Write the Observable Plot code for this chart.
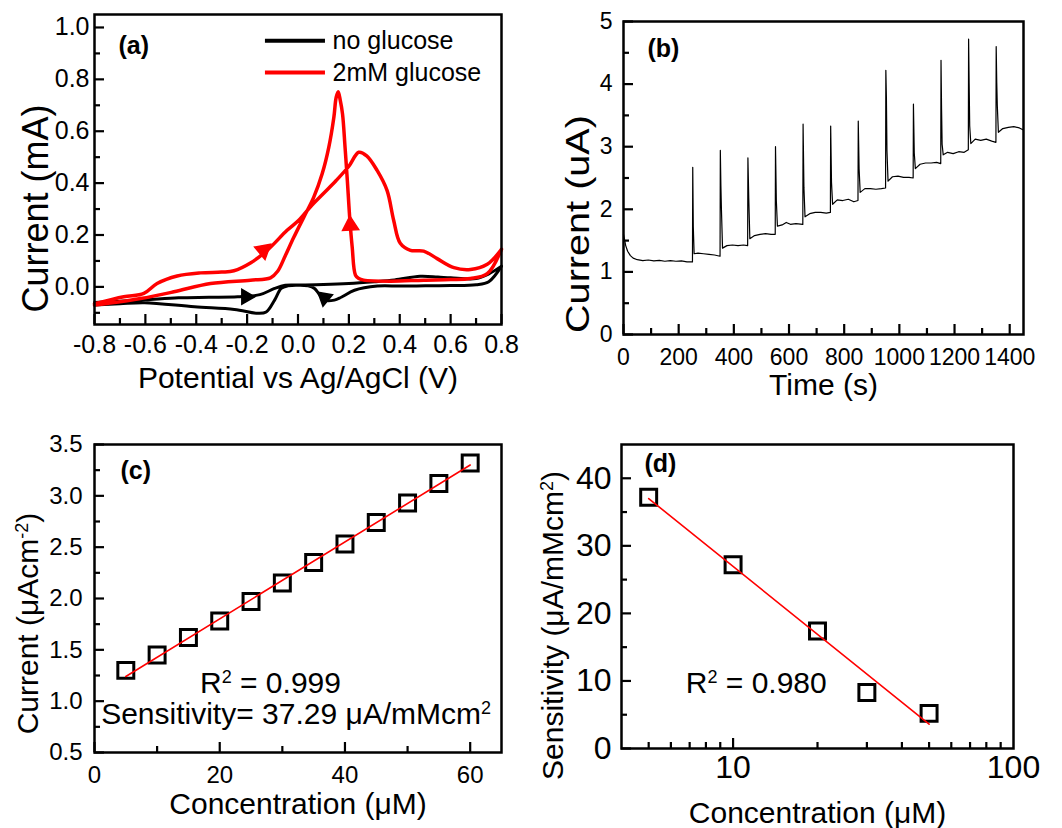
<!DOCTYPE html>
<html><head><meta charset="utf-8">
<script src="https://cdn.jsdelivr.net/npm/d3@7"></script>
<script src="https://cdn.jsdelivr.net/npm/@observablehq/plot@0.6"></script>
<style>
body{margin:0;background:#fff;}
#fig{position:relative;width:1062px;height:828px;background:#fff;}
.panel{position:absolute;}
.panel svg{overflow:visible;}
</style></head><body><div id="fig"></div>
<script>
// ---------- Panel (a): cyclic voltammograms ----------
const redFwdV = [-0.8,-0.685,-0.606,-0.554,-0.475,-0.383,-0.3,-0.252,-0.187,-0.121,-0.043,0.003,0.05,0.1,0.15,0.2,0.239,0.27,0.311,0.35,0.376,0.402,0.442,0.494,0.547,0.613,0.678,0.744,0.8];
const redFwdI = [-0.065,-0.038,-0.025,0.013,0.042,0.054,0.057,0.062,0.092,0.141,0.218,0.257,0.31,0.36,0.41,0.465,0.519,0.505,0.449,0.372,0.257,0.168,0.141,0.138,0.109,0.074,0.067,0.087,0.145];
const redRevV = [0.8,0.744,0.678,0.6,0.494,0.363,0.258,0.239,0.226,0.213,0.204,0.194,0.185,0.175,0.166,0.158,0.15,0.141,0.121,0.095,0.062,0.023,-0.017,-0.05,-0.08,-0.108,-0.187,-0.344,-0.488,-0.619,-0.75,-0.8];
const redRevI = [0.145,0.051,0.032,0.028,0.026,0.022,0.026,0.032,0.045,0.154,0.257,0.41,0.538,0.667,0.72,0.752,0.73,0.654,0.538,0.436,0.346,0.269,0.19,0.12,0.06,0.035,0.026,0.013,-0.019,-0.045,-0.064,-0.07];
const blkFwdV = [-0.8,-0.7,-0.6,-0.47,-0.35,-0.237,-0.15,-0.092,-0.05,0.0,0.1,0.2,0.3,0.38,0.48,0.55,0.6,0.7,0.75,0.8];
const blkFwdI = [-0.06,-0.055,-0.05,-0.042,-0.04,-0.038,-0.03,-0.006,0.006,0.007,0.009,0.013,0.02,0.027,0.041,0.038,0.035,0.032,0.05,0.08];
const blkRevV = [0.8,0.75,0.7,0.6,0.5,0.4,0.312,0.222,0.17,0.143,0.104,0.065,0.04,0.0,-0.04,-0.066,-0.092,-0.125,-0.158,-0.25,-0.407,-0.603,-0.7,-0.8];
const blkRevI = [0.08,0.02,0.008,0.005,0.004,0.003,0.003,-0.013,-0.04,-0.051,-0.051,-0.006,0.004,0.006,0.004,-0.006,-0.051,-0.097,-0.102,-0.087,-0.077,-0.061,-0.065,-0.07];
const arrowV = [-0.136,0.206,-0.204,0.104];
const arrowI = [0.141,0.237,-0.038,-0.042];
const arrowDir = [50,-3,90,190];
const arrowColor = ["red","red","black","black"];
const legendNames = ["no glucose","2mM glucose"];
const legendColors = ["black","red"];
const aXMajor = [-0.8,-0.6,-0.4,-0.2,0,0.2,0.4,0.6,0.8];
const aXMinor = [-0.7,-0.5,-0.3,-0.1,0.1,0.3,0.5,0.7];
const aYMajor = [0,0.2,0.4,0.6,0.8,1.0];
const aYMinor = [-0.1,0.1,0.3,0.5,0.7,0.9];

// ---------- Panel (b): amperometric response ----------
const bTime = [0,3,8,15,25,35,50,70,90,110,130,150,170,190,210,230,250,
 251,253,256,270,290,310,330,350,
 351,353,355,359,375,395,415,435,450,
 451,454,458,475,495,515,535,550,
 551,554,558,575,590,605,625,650,
 651,654,658,675,695,715,735,750,
 751,754,758,775,795,815,835,850,
 851,854,858,875,895,915,935,950,
 951,953,955,959,975,995,1015,1035,1050,
 1051,1054,1058,1075,1095,1115,1135,1150,
 1151,1153,1155,1159,1175,1195,1215,1235,1250,
 1251,1253,1255,1259,1275,1295,1315,1335,1350,
 1351,1353,1355,1359,1375,1395,1415,1435,1448];
const bCurrent = [1.60,1.53,1.42,1.33,1.26,1.22,1.195,1.18,1.19,1.175,1.185,1.17,1.18,1.17,1.175,1.16,1.16,
 2.67,1.72,1.29,1.30,1.29,1.28,1.27,1.25,
 2.94,2.38,2.0,1.38,1.42,1.43,1.42,1.43,1.42,
 2.82,2.19,1.53,1.58,1.60,1.61,1.60,1.60,
 3.00,2.14,1.73,1.75,1.79,1.76,1.77,1.76,
 3.36,2.35,1.88,1.93,1.95,1.95,1.94,1.95,
 3.33,2.43,2.08,2.15,2.14,2.16,2.12,2.14,
 3.41,2.65,2.27,2.33,2.33,2.32,2.33,2.34,
 4.22,3.79,2.94,2.45,2.52,2.53,2.51,2.51,2.50,
 3.68,2.90,2.65,2.72,2.74,2.74,2.75,2.73,
 4.38,3.60,3.04,2.87,2.91,2.89,2.92,2.91,2.95,
 4.72,4.00,3.33,3.05,3.12,3.10,3.12,3.09,3.07,
 4.60,4.03,3.66,3.23,3.29,3.31,3.32,3.30,3.27];
const bXMajor = [0,200,400,600,800,1000,1200,1400];
const bXMinor = [100,300,500,700,900,1100,1300];
const bYMajor = [0,1,2,3,4,5];
const bYMinor = [0.5,1.5,2.5,3.5,4.5];

// ---------- Panel (c): calibration ----------
const cConc = [5,10,15,20,25,30,35,40,45,50,55,60];
const cCurrent = [1.30,1.45,1.62,1.78,1.97,2.15,2.35,2.53,2.74,2.93,3.12,3.32];
const cFitX = [5,60];
const cFitY = [1.24,3.30];
const cXMajor = [0,20,40,60];
const cXMinor = [10,30,50];
const cYMajor = [0.5,1.0,1.5,2.0,2.5,3.0,3.5];
const cYMinor = [0.75,1.25,1.75,2.25,2.75,3.25];

// ---------- Panel (d): sensitivity ----------
const dConc = [5,10,20,30,50];
const dSens = [37.2,27.2,17.4,8.3,5.2];
const dFitX = [5,50];
const dFitY = [37.0,3.6];
const dXMajor = [10];
const dXMinor = [5,6,7,8,9,20,30,40,50,60,70,80,90];
const dXLabels = [10,100];
const dYMajor = [0,10,20,30,40];
const dYMinor = [5,15,25,35];

// ---------- helpers ----------
const FONT = '"Liberation Sans", Arial, Helvetica, sans-serif';
const zip = (xs, ys) => xs.map((x, k) => ({x, y: ys[k]}));

// inward ticks drawn as short rules; their length (px) is converted to the scale's units
function axes(o) {
  const [x0, x1] = o.xd, [y0, y1] = o.yd;
  const yEnd = len => y0 + len * (y1 - y0) / o.H;
  const xEnd = len => o.xLog ? x0 * Math.pow(x1 / x0, len / o.W) : x0 + len * (x1 - x0) / o.W;
  const tx = (vals, len) => Plot.ruleX(vals, {x: d => d, y1: () => y0, y2: () => yEnd(len), stroke: "black", strokeWidth: 2.2});
  const ty = (vals, len) => Plot.ruleY(vals, {y: d => d, x1: () => x0, x2: () => xEnd(len), stroke: "black", strokeWidth: 2.2});
  return [
    tx(o.xMajor, 10),
    tx(o.xMinor, 6),
    Plot.axisX(o.xLabels || o.xMajor, {tickSize: 0, tickPadding: o.xPad, fontSize: o.fs, tickFormat: o.xFmt, label: null, fill: "black"}),
    ty(o.yMajor, 10),
    ty(o.yMinor, 6),
    Plot.axisY(o.yMajor, {tickSize: 0, tickPadding: o.yPad, fontSize: o.fs, tickFormat: o.yFmt, label: null, fill: "black"})
  ];
}
function titles(xt, yt, o) {
  return [
    Plot.text([xt], {frameAnchor: "bottom", text: d => d, dy: o.xdy, fontSize: o.xfs || 30, textAnchor: "middle", lineAnchor: "middle", fill: "black"}),
    Plot.text([yt], {frameAnchor: "left", text: d => d, rotate: -90, dx: o.ydx, dy: o.ydy, fontSize: o.yfs || 30, textAnchor: "middle", lineAnchor: "middle", fill: "black"})
  ];
}
function panelLabel(s, dx, dy) {
  return Plot.text([s], {frameAnchor: "top-left", text: d => d, dx, dy, fontSize: 25, fontWeight: "bold", textAnchor: "start", lineAnchor: "middle", fill: "black"});
}
function supify(root) {
  root.querySelectorAll("text").forEach(t => {
    const s = t.textContent;
    if (!s.includes("^{")) return;
    while (t.firstChild) t.removeChild(t.firstChild);
    const re = /\^\{([^}]*)\}/g;
    let last = 0, m;
    const add = (str, sup) => {
      const ts = document.createElementNS("http://www.w3.org/2000/svg", "tspan");
      ts.textContent = str;
      if (sup) { ts.setAttribute("baseline-shift", "super"); ts.setAttribute("font-size", "60%"); }
      t.appendChild(ts);
    };
    while ((m = re.exec(s))) {
      if (m.index > last) add(s.slice(last, m.index), false);
      add(m[1], true);
      last = re.lastIndex;
    }
    if (last < s.length) add(s.slice(last), false);
  });
}
const style = {fontFamily: FONT, color: "black", background: "transparent", maxWidth: "none", overflow: "visible"};
const fig = document.getElementById("fig");
function mount(svg, left, top) {
  const d = document.createElement("div");
  d.className = "panel";
  d.style.left = left + "px"; d.style.top = top + "px";
  d.appendChild(svg);
  fig.appendChild(d);
  supify(svg);
  return svg;
}
const f1 = d => d.toFixed(1);
const f0 = d => String(d);

// ---------- build panel (a) ----------
const cvRed = zip(redFwdV, redFwdI).concat(zip(redRevV, redRevI));
const cvBlack = zip(blkFwdV, blkFwdI).concat(zip(blkRevV, blkRevI));
const arrows = arrowV.map((v, k) => ({x: v, y: arrowI[k], dir: arrowDir[k], c: arrowColor[k]}));
const legend = legendNames.map((n, k) => ({name: n, c: legendColors[k], y: 0.949 - 0.123 * k}));
const aXD = [-0.8, 0.8], aYD = [-0.145, 1.05];

const pa = Plot.plot({
  width: 530, height: 414, marginTop: 14, marginLeft: 94, marginRight: 29, marginBottom: 90,
  x: {domain: aXD, label: null}, y: {domain: aYD, label: null},
  style,
  marks: [
    ...axes({xd: aXD, yd: aYD, xMajor: aXMajor, xMinor: aXMinor, yMajor: aYMajor, yMinor: aYMinor, xFmt: f1, yFmt: f1, fs: 25, xPad: 11, yPad: 5, W: 407, H: 310}),
    Plot.line(cvBlack, {x: "x", y: "y", stroke: "black", strokeWidth: 3, curve: "catmull-rom"}),
    Plot.line(cvRed, {x: "x", y: "y", stroke: "red", strokeWidth: 3.5, curve: "catmull-rom"}),
    Plot.dot(arrows.filter(d => d.c === "black"), {x: "x", y: "y", rotate: "dir", symbol: "triangle", r: 5.5, fill: "black", stroke: "black"}),
    Plot.dot(arrows.filter(d => d.c === "red"), {x: "x", y: "y", rotate: "dir", symbol: "triangle", r: 6, fill: "red", stroke: "red"}),
    Plot.ruleY(legend.filter(d => d.c === "black"), {y: "y", x1: () => -0.128, x2: () => 0.108, stroke: "black", strokeWidth: 4}),
    Plot.ruleY(legend.filter(d => d.c === "red"), {y: "y", x1: () => -0.128, x2: () => 0.108, stroke: "red", strokeWidth: 4}),
    Plot.text(legend, {x: () => 0.136, y: "y", text: "name", fontSize: 25, textAnchor: "start", lineAnchor: "middle", fill: "black"}),
    Plot.frame({strokeWidth: 2.5}),
    panelLabel("(a)", 24, 31),
    ...titles("Potential vs Ag/AgCl (V)", "Current (mA)", {xdy: 54, ydx: -58, ydy: 39, yfs: 36})
  ]
});
mount(pa, 0, 0);

// ---------- build panel (b) ----------
const bRows = zip(bTime, bCurrent);
const bXD = [0, 1450], bYD = [0, 5];
const pb = Plot.plot({
  width: 532, height: 414, marginTop: 21, marginLeft: 93, marginRight: 39, marginBottom: 80,
  x: {domain: bXD, label: null}, y: {domain: bYD, label: null},
  style,
  marks: [
    ...axes({xd: bXD, yd: bYD, xMajor: bXMajor, xMinor: bXMinor, yMajor: bYMajor, yMinor: bYMinor, xFmt: f0, yFmt: f0, fs: 23, xPad: 14, yPad: 11, W: 400, H: 313}),
    Plot.line(bRows, {x: "x", y: "y", stroke: "black", strokeWidth: 1.2}),
    Plot.frame({strokeWidth: 2.5}),
    panelLabel("(b)", 24, 27),
    ...titles("Time (s)", "Current (uA)", {xdy: 51, ydx: -45, ydy: 46, yfs: 33})
  ]
});
mount(pb, 530, 0);
pb.querySelectorAll("text").forEach(t => { if (t.textContent === "Current (uA)") { t.setAttribute("textLength", 218); t.setAttribute("lengthAdjust", "spacingAndGlyphs"); } });

// ---------- build panel (c) ----------
const cRows = zip(cConc, cCurrent);
const cFit = zip(cFitX, cFitY);
const cXD = [0, 65], cYD = [0.5, 3.5];
const pc = Plot.plot({
  width: 530, height: 414, marginTop: 30, marginLeft: 94, marginRight: 29, marginBottom: 76,
  x: {domain: cXD, label: null}, y: {domain: cYD, label: null},
  style,
  marks: [
    ...axes({xd: cXD, yd: cYD, xMajor: cXMajor, xMinor: cXMinor, yMajor: cYMajor, yMinor: cYMinor, xFmt: f0, yFmt: f1, fs: 24, xPad: 13, yPad: 12, W: 407, H: 308}),
    Plot.dot(cRows, {x: "x", y: "y", symbol: "square", r: 9, stroke: "black", strokeWidth: 3, fill: "none"}),
    Plot.line(cFit, {x: "x", y: "y", stroke: "red", strokeWidth: 1.6}),
    Plot.text(["R^{2} = 0.999"], {x: () => 28.1, y: () => 1.173, text: d => d, fontSize: 30, textAnchor: "middle", lineAnchor: "middle", fill: "black"}),
    Plot.text(["Sensitivity= 37.29 \u03bcA/mMcm^{2}"], {x: () => 32.2, y: () => 0.871, text: d => d, fontSize: 30, textAnchor: "middle", lineAnchor: "middle", fill: "black"}),
    Plot.frame({strokeWidth: 2.5}),
    panelLabel("(c)", 26, 26),
    ...titles("Concentration (\u03bcM)", "Current (\u03bcAcm^{-2})", {xdy: 52, ydx: -66, ydy: 25})
  ]
});
mount(pc, 0, 414);

// ---------- build panel (d) ----------
const dRows = zip(dConc, dSens);
const dFit = zip(dFitX, dFitY);
const dXD = [4, 100], dYD = [0, 45];
const pd = Plot.plot({
  width: 532, height: 414, marginTop: 30, marginLeft: 91, marginRight: 49, marginBottom: 80,
  x: {type: "log", domain: dXD, label: null}, y: {domain: dYD, label: null},
  style,
  marks: [
    ...axes({xd: dXD, yd: dYD, xLog: true, xMajor: dXMajor, xMinor: dXMinor, xLabels: dXLabels, yMajor: dYMajor, yMinor: dYMinor, xFmt: f0, yFmt: f0, fs: 32, xPad: 7, yPad: 10, W: 392, H: 304}),
    Plot.dot(dRows, {x: "x", y: "y", symbol: "square", r: 9, stroke: "black", strokeWidth: 3, fill: "none"}),
    Plot.line(dFit, {x: "x", y: "y", stroke: "red", strokeWidth: 1.6}),
    Plot.text(["R^{2} = 0.980"], {x: () => 6.78, y: () => 9.7, text: d => d, fontSize: 30, textAnchor: "start", lineAnchor: "middle", fill: "black"}),
    Plot.frame({strokeWidth: 2.5}),
    panelLabel("(d)", 23, 19),
    ...titles("Concentration (\u03bcM)", "Sensitivity (\u03bcA/mMcm^{2})", {xdy: 65, ydx: -68, ydy: 29})
  ]
});
mount(pd, 530, 414);
</script></body></html>
